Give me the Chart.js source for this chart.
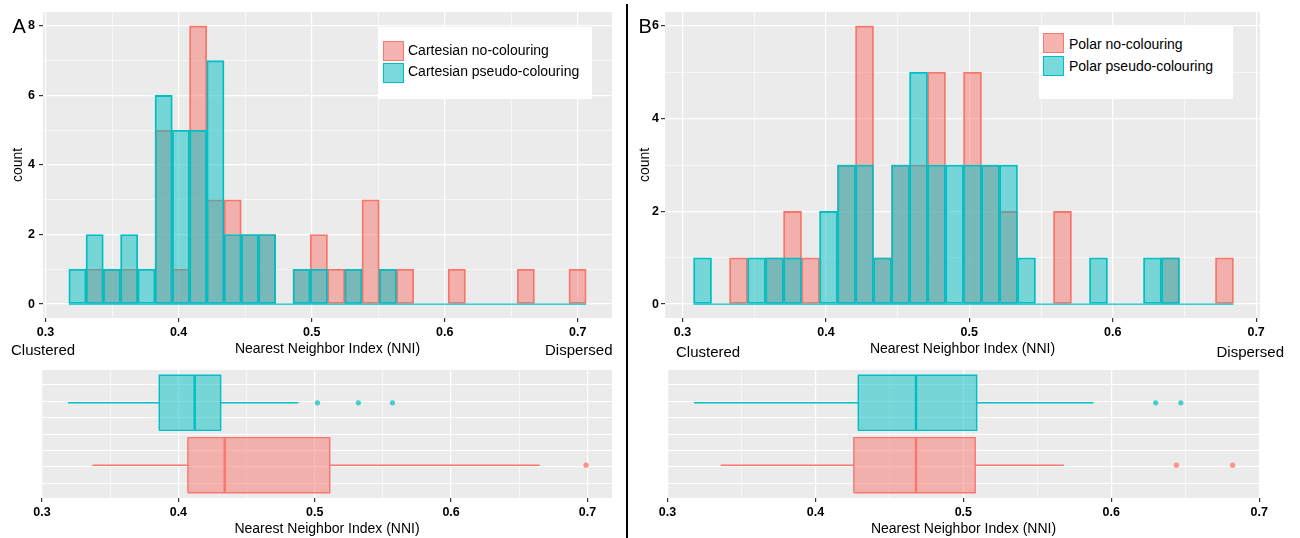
<!DOCTYPE html>
<html>
<head>
<meta charset="utf-8">
<script src="https://cdn.jsdelivr.net/npm/chart.js@4.4.1/dist/chart.umd.min.js"></script>
<style>
  html, body { margin: 0; padding: 0; background: #fff; }
  body { width: 1300px; height: 538px; position: relative; overflow: hidden;
         font-family: "Liberation Sans", Arial, sans-serif; color: #000; }
  .pane { position: absolute; }
  .pane canvas { display: block; }
  .txt { position: absolute; white-space: nowrap; line-height: 1; }
  .panel-tag { font-size: 20px; }
  .pole { font-size: 15px; }
  .legend { position: absolute; background: #fff; }
  .key { position: absolute; box-sizing: border-box; width: 21px; height: 20px; }
  .key.no { background: linear-gradient(rgba(248,118,109,0.5), rgba(248,118,109,0.5)), #F2F2F2; border: 1px solid #F8766D; }
  .key.pseudo { background: linear-gradient(rgba(0,191,196,0.5), rgba(0,191,196,0.5)), #F2F2F2; border: 1px solid #00BFC4; }
  .legtxt { font-size: 14px; }
  .divider { position: absolute; left: 626px; top: 4px; width: 2px; height: 534px; background: #000; }
</style>
</head>
<body>

<div class="pane" style="left:0;top:0"><canvas id="histA" width="626" height="362"></canvas></div>
<div class="pane" style="left:628px;top:0"><canvas id="histB" width="672" height="362"></canvas></div>
<div class="pane" style="left:0;top:360px"><canvas id="boxA" width="626" height="178"></canvas></div>
<div class="pane" style="left:628px;top:360px"><canvas id="boxB" width="672" height="178"></canvas></div>

<div class="divider"></div>

<div class="txt panel-tag" style="left:12.5px;top:16.4px">A</div>
<div class="txt panel-tag" style="left:638.5px;top:16.4px">B</div>

<div class="txt pole" style="left:11px;top:342.3px">Clustered</div>
<div class="txt pole" style="left:542px;top:342.3px;width:70.5px;text-align:right">Dispersed</div>
<div class="txt pole" style="left:676px;top:343.5px">Clustered</div>
<div class="txt pole" style="left:1213px;top:343.5px;width:71px;text-align:right">Dispersed</div>

<div class="legend" style="left:378px;top:27px;width:214px;height:72px"></div>
<div class="key no" style="left:383px;top:41px"></div>
<div class="key pseudo" style="left:383px;top:63px"></div>
<div class="txt legtxt" style="left:408px;top:43.1px">Cartesian no-colouring</div>
<div class="txt legtxt" style="left:408px;top:64.1px">Cartesian pseudo-colouring</div>

<div class="legend" style="left:1039px;top:25px;width:194px;height:74px"></div>
<div class="key no" style="left:1043px;top:33px"></div>
<div class="key pseudo" style="left:1043px;top:56px"></div>
<div class="txt legtxt" style="left:1069px;top:36.5px">Polar no-colouring</div>
<div class="txt legtxt" style="left:1069px;top:59.2px">Polar pseudo-colouring</div>

<script>
// ---- Histogram bins (30 equal-width bins per panel) ----
const binStartA = 0.3175;
const binWidthA = 0.01296;
const cartesianNoColouring     = [0,1,1,1,0,5,1,8,3,3,2,2,0,1,2,1,1,3,1,1,0,0,1,0,0,0,1,0,0,1];
const cartesianPseudoColouring = [1,2,1,2,1,6,5,5,7,2,2,2,0,1,1,0,1,0,1,0,0,0,0,0,0,0,0,0,0,0];

const binStartB = 0.3077;
const binWidthB = 0.01255;
const polarNoColouring     = [0,0,1,0,1,2,1,0,3,6,1,3,3,5,0,5,3,2,0,0,2,0,0,0,0,0,1,0,0,1];
const polarPseudoColouring = [1,0,0,1,1,1,0,2,3,3,1,3,5,3,3,3,3,3,1,0,0,0,1,0,0,1,1,0,0,0];

// ---- Box plot summaries: [lower whisker, Q1, median, Q3, upper whisker] ----
const cartesianNoBox       = [0.337, 0.407, 0.434, 0.511, 0.665];
const cartesianNoOutliers  = [0.699];
const cartesianPseudoBox   = [0.319, 0.386, 0.412, 0.431, 0.488];
const cartesianPseudoOutliers = [0.502, 0.532, 0.557];

const polarNoBox           = [0.336, 0.426, 0.468, 0.508, 0.568];
const polarNoOutliers      = [0.644, 0.682];
const polarPseudoBox       = [0.318, 0.429, 0.468, 0.509, 0.588];
const polarPseudoOutliers  = [0.630, 0.647];

// ---- Axis ticks ----
const nniTicks      = [0.3, 0.4, 0.5, 0.6, 0.7];
const nniTickLabels = ['0.3', '0.4', '0.5', '0.6', '0.7'];
const countTicksA   = [0, 2, 4, 6, 8];
const countTicksB   = [0, 2, 4, 6];
const boxRowGrid    = [-3, -2, -1, 0, 1, 2, 3];

// ---- Styling ----
const RED = '#F8766D', TEAL = '#00BFC4';
const RED_FILL = 'rgba(248,118,109,0.5)', TEAL_FILL = 'rgba(0,191,196,0.5)';
const RED_DOT = 'rgba(248,118,109,0.75)', TEAL_DOT = 'rgba(0,191,196,0.72)';
const FONT = '"Liberation Sans", Arial, sans-serif';
Chart.defaults.font.family = FONT;
Chart.defaults.animation = false;

const panelBg = {
  id: 'panelBg',
  beforeDraw(chart) {
    const { ctx, chartArea: a } = chart;
    ctx.save();
    ctx.fillStyle = '#EBEBEB';
    ctx.fillRect(a.left, a.top, a.right - a.left, a.bottom - a.top);
    ctx.restore();
  }
};

// major ticks plus the midpoints between them (minor grid)
function withMinors(major) {
  const out = [];
  major.forEach((v, i) => {
    out.push(v);
    if (i < major.length - 1) out.push((v + major[i + 1]) / 2);
  });
  return out;
}
const isIn = (arr, v) => arr.some(m => Math.abs(m - v) < 1e-9);

function gridStyle(major) {
  return {
    color: '#FFFFFF',
    lineWidth: c => (c.tick && isIn(major, c.tick.value)) ? 1.2 : 0.6,
    tickColor: c => (c.tick && isIn(major, c.tick.value)) ? '#333333' : 'rgba(0,0,0,0)',
    tickLength: 4,
    drawTicks: true,
    offset: false
  };
}

function nniAxis(min, max, height, titleBottom) {
  return {
    type: 'linear', position: 'bottom', min, max, offset: false,
    afterBuildTicks: s => { s.ticks = withMinors(nniTicks).map(v => ({ value: v })); },
    afterFit: s => { s.height = height; },
    grid: gridStyle(nniTicks),
    border: { display: false },
    ticks: {
      autoSkip: false, maxRotation: 0, padding: 3,
      color: '#000', font: { size: 12.5, weight: 'bold' },
      callback: v => {
        const i = nniTicks.findIndex(m => Math.abs(m - v) < 1e-9);
        return i >= 0 ? nniTickLabels[i] : '';
      }
    },
    title: {
      display: true, text: 'Nearest Neighbor Index (NNI)', color: '#000',
      font: { size: 14 }, padding: { top: 0, bottom: titleBottom }
    }
  };
}

function histChart(id, o) {
  const centers = o.no.map((_, i) => o.start + (i + 0.5) * o.width);
  const pts = arr => arr.map((c, i) => ({ x: centers[i], y: c }));
  const lastEdge = o.start + o.no.length * o.width;
  const barStyle = { borderWidth: 1.2, borderSkipped: false, grouped: false,
                     barPercentage: 1, categoryPercentage: 1 };
  new Chart(document.getElementById(id), {
    type: 'bar',
    data: {
      datasets: [
        Object.assign({ label: o.pseudoLabel, data: pts(o.pseudo),
          backgroundColor: TEAL_FILL, borderColor: TEAL, order: 0 }, barStyle),
        { type: 'line', label: 'zero bins', data: [{ x: o.start, y: 0 }, { x: lastEdge, y: 0 }],
          borderColor: TEAL, borderWidth: 1.3, pointRadius: 0, order: 1 },
        Object.assign({ label: o.noLabel, data: pts(o.no),
          backgroundColor: RED_FILL, borderColor: RED, order: 2 }, barStyle)
      ]
    },
    options: {
      responsive: false, animation: false, events: [],
      layout: { padding: { left: 0, top: 12, right: o.padRight, bottom: 0 } },
      plugins: { legend: { display: false }, tooltip: { enabled: false } },
      scales: {
        x: nniAxis(o.xMin, o.xMax, 44, 4.4),
        y: {
          type: 'linear', min: o.yMin, max: o.yMax,
          afterBuildTicks: s => { s.ticks = withMinors(o.yTicks).map(v => ({ value: v })); },
          afterFit: s => { s.width = o.yWidth; },
          grid: gridStyle(o.yTicks),
          border: { display: false },
          ticks: {
            autoSkip: false, padding: o.yPad, color: '#000',
            font: { size: 12.5, weight: 'bold' },
            callback: v => isIn(o.yTicks, v) ? String(v) : ''
          },
          title: { display: true, text: 'count', color: '#000', font: { size: 14 },
                   padding: { top: o.titlePad, bottom: 0 } }
        }
      }
    },
    plugins: [panelBg]
  });
}

// one box-and-whisker group drawn from line/point datasets
function boxGroup(stats, outliers, row, stroke, fill, dot) {
  const half = 1.68;
  const [lo, q1, med, q3, hi] = stats;
  const line = { type: 'scatter', showLine: true, pointRadius: 0, borderColor: stroke, fill: false };
  return [
    Object.assign({}, line, { data: [{ x: lo, y: row }, { x: q1, y: row }], borderWidth: 1.5 }),
    Object.assign({}, line, { data: [{ x: q3, y: row }, { x: hi, y: row }], borderWidth: 1.5 }),
    Object.assign({}, line, {
      data: [{ x: q1, y: row - half }, { x: q3, y: row - half }, { x: q3, y: row + half },
             { x: q1, y: row + half }, { x: q1, y: row - half }],
      borderWidth: 1.4, fill: 'shape', backgroundColor: fill
    }),
    Object.assign({}, line, { data: [{ x: med, y: row - half }, { x: med, y: row + half }], borderWidth: 2.4 }),
    { type: 'scatter', showLine: false, data: outliers.map(v => ({ x: v, y: row })),
      pointRadius: 2.6, pointBorderWidth: 0, backgroundColor: dot, borderColor: dot }
  ];
}

function boxChart(id, o) {
  const datasets = [].concat(
    boxGroup(o.no, o.noOut, -1.9, RED, RED_FILL, RED_DOT),
    boxGroup(o.pseudo, o.pseudoOut, 1.9, TEAL, TEAL_FILL, TEAL_DOT)
  );
  new Chart(document.getElementById(id), {
    type: 'scatter',
    data: { datasets },
    options: {
      responsive: false, animation: false, events: [],
      layout: { padding: { left: 0, top: 10, right: o.padRight, bottom: 0 } },
      plugins: { legend: { display: false }, tooltip: { enabled: false } },
      scales: {
        x: nniAxis(o.xMin, o.xMax, 40, 0.4),
        y: {
          type: 'linear', min: -3.9, max: 3.9,
          afterBuildTicks: s => { s.ticks = boxRowGrid.map(v => ({ value: v })); },
          afterFit: s => { s.width = o.yWidth; },
          grid: { color: '#FFFFFF', lineWidth: 1, drawTicks: false },
          border: { display: false },
          ticks: { display: false }
        }
      }
    },
    plugins: [panelBg]
  });
}

histChart('histA', {
  start: binStartA, width: binWidthA,
  no: cartesianNoColouring, pseudo: cartesianPseudoColouring,
  noLabel: 'Cartesian no-colouring', pseudoLabel: 'Cartesian pseudo-colouring',
  xMin: 0.2981, xMax: 0.7257, yMin: -0.4, yMax: 8.4, yTicks: countTicksA,
  yWidth: 43, yPad: 4, titlePad: 10.1, padRight: 14
});

histChart('histB', {
  start: binStartB, width: binWidthB,
  no: polarNoColouring, pseudo: polarPseudoColouring,
  noLabel: 'Polar no-colouring', pseudoLabel: 'Polar pseudo-colouring',
  xMin: 0.2878, xMax: 0.7027, yMin: -0.3, yMax: 6.3, yTicks: countTicksB,
  yWidth: 37, yPad: 2, titlePad: 8.8, padRight: 40
});

boxChart('boxA', {
  no: cartesianNoBox, noOut: cartesianNoOutliers,
  pseudo: cartesianPseudoBox, pseudoOut: cartesianPseudoOutliers,
  xMin: 0.3, xMax: 0.718, yWidth: 42, padRight: 14
});

boxChart('boxB', {
  no: polarNoBox, noOut: polarNoOutliers,
  pseudo: polarPseudoBox, pseudoOut: polarPseudoOutliers,
  xMin: 0.2997, xMax: 0.7005, yWidth: 39, padRight: 40
});
</script>
</body>
</html>
